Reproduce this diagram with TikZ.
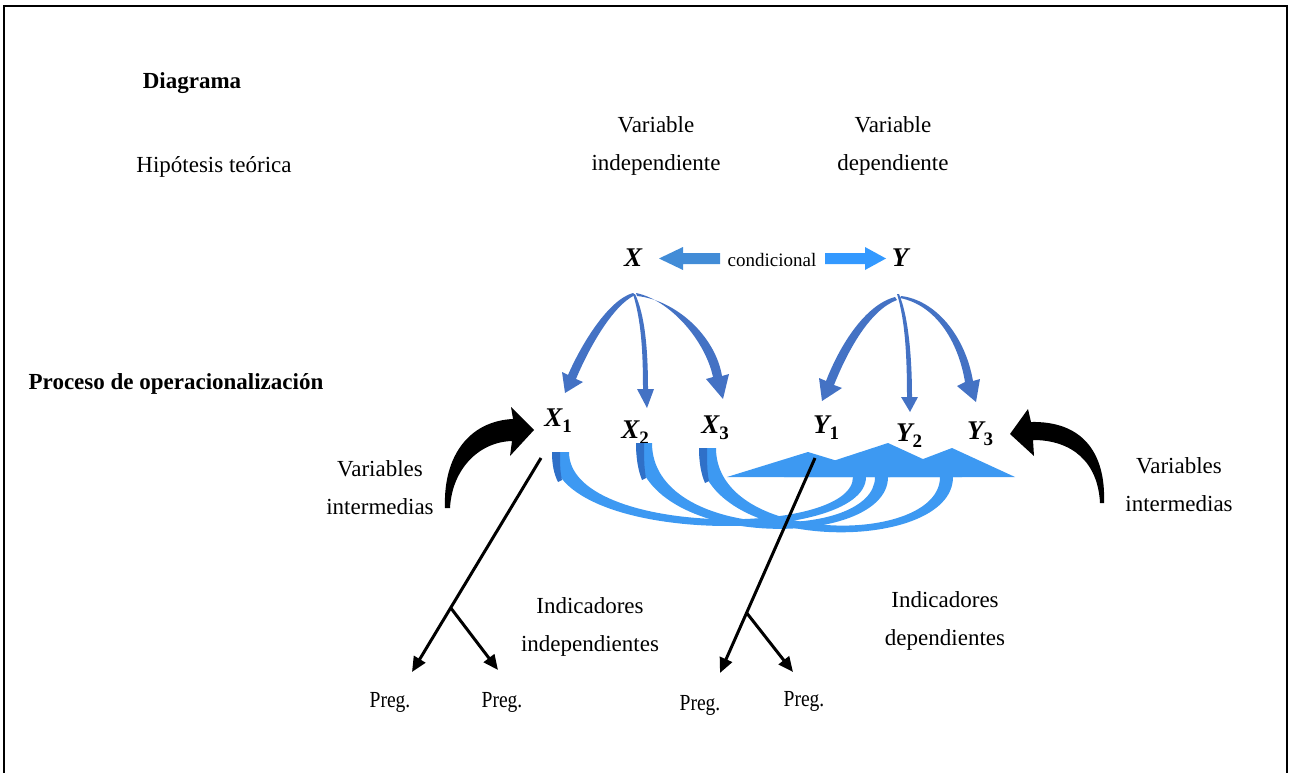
\documentclass[tikz,border=0pt]{standalone}
\usepackage{fontspec}
\setmainfont{Liberation Serif}
\usetikzlibrary{arrows.meta,calc}
\definecolor{topblue}{RGB}{68,114,196}
\definecolor{lowblue}{RGB}{61,153,242}
\definecolor{lowdark}{RGB}{47,112,200}
\definecolor{condl}{RGB}{66,140,215}
\definecolor{condr}{RGB}{51,153,255}
\newcommand\vsub[2]{#1\raisebox{-6pt}{\fontsize{19}{19}\selectfont\upshape\bfseries #2}}
\begin{document}
\begin{tikzpicture}[x=1pt,y=-1pt,
  txt/.style={font=\fontsize{23}{38}\selectfont, align=center, inner sep=0pt},
  btxt/.style={font=\fontsize{23}{28}\selectfont\bfseries, inner sep=0pt},
  var/.style={font=\fontsize{27}{30}\selectfont\bfseries\itshape, inner sep=0pt},
  preg/.style={font=\fontsize{23}{26}\selectfont, inner sep=0pt, anchor=base},
  blk/.style={line width=3pt, -{Triangle[length=15pt,width=13pt]}},
]
\useasboundingbox (0,0) rectangle (1291,773);
% frame
\draw[line width=2pt] (4,773) -- (4,6) -- (1287,6) -- (1287,773);

% texts
\node[btxt] (diag) at (192,83) {Diagrama};
\node[txt] (hip) at (214,167) {Hipótesis teórica};
\node[txt] (vi) at (656,146) {Variable\\independiente};
\node[txt] (vd) at (893,146) {Variable\\dependiente};
\node[btxt] (proc) at (176,384) {Proceso de operacionalización};
\node[var] (X) at (633,258) {X};
\node[var] (Y) at (900,258) {Y};
\node[font=\fontsize{19}{22}\selectfont, inner sep=0pt] (cond) at (772,260) {condicional};

\node[var] (X1) at (558,421) {\vsub{X}{1}};
\node[var] (X2) at (635,433) {\vsub{X}{2}};
\node[var] (X3) at (715,428) {\vsub{X}{3}};
\node[var] (Y1) at (826,428) {\vsub{Y}{1}};
\node[var] (Y2) at (909,436) {\vsub{Y}{2}};
\node[var] (Y3) at (980,434) {\vsub{Y}{3}};

\node[txt] (vil) at (380,488) {Variables\\intermedias};
\node[txt] (vir) at (1179,485) {Variables\\intermedias};
\node[txt] (ii) at (590,627) {Indicadores\\independientes};
\node[txt] (id) at (945,621) {Indicadores\\dependientes};

\node[preg] (p1) at (390,707) {\scalebox{0.85}[1]{Preg.}};
\node[preg] (p2) at (502,707) {\scalebox{0.85}[1]{Preg.}};
\node[preg] (p3) at (700,710) {\scalebox{0.85}[1]{Preg.}};
\node[preg] (p4) at (804,706) {\scalebox{0.85}[1]{Preg.}};

% condicional arrows
\fill[condl] (720,253) -- (683,253) -- (683,247) -- (659,258.5) -- (683,270) -- (683,264) -- (720,264) -- cycle;
\fill[condr] (825,253) -- (865,253) -- (865,247) -- (886,258.5) -- (865,270) -- (865,264) -- (825,264) -- cycle;

% arrows from X
\fill[topblue] (633,293) .. controls (608,300) and (581,345) .. (568,375) -- (562,372) -- (565,393) -- (583,382) -- (576,379) .. controls (588,350) and (612,306) .. (635,295) -- cycle;
\fill[topblue] (633,294) .. controls (641,320) and (643,350) .. (643,389) -- (637,389) -- (647,408) -- (654,389) -- (648,389) .. controls (648,350) and (645,315) .. (635,294) -- cycle;
\fill[topblue] (636,293) .. controls (670,300) and (705,340) .. (713,377) -- (706,379) -- (723,399) -- (729,374) -- (722,376) .. controls (715,335) and (675,300) .. (637,296) -- cycle;
% arrows from Y
\fill[topblue] (895,297) .. controls (865,305) and (840,345) .. (826,381) -- (819,378) -- (822,401) -- (842,388) -- (834,385) .. controls (848,350) and (870,310) .. (897,300) -- cycle;
\fill[topblue] (897,294) .. controls (905,320) and (907,355) .. (907,397) -- (901,397) -- (910,412) -- (918,397) -- (912,397) .. controls (912,355) and (908,315) .. (899,294) -- cycle;
\fill[topblue] (900,298) .. controls (935,305) and (958,340) .. (965,382) -- (957,386) -- (976,402) -- (980,379) -- (973,381) .. controls (965,335) and (935,300) .. (901,296) -- cycle;

% lower curved arrows X_i -> Y_i
\fill[lowblue] (552,452) .. controls (552,546) and (866,546) .. (866,477) -- (853,477) .. controls (853,537) and (569,537) .. (569,452) -- cycle;
\fill[lowblue] (636,443) .. controls (636,551) and (888,551) .. (888,477) -- (875,477) .. controls (875,542) and (652,542) .. (652,443) -- cycle;
\fill[lowblue] (699,448) .. controls (699,555) and (953,555) .. (953,477) -- (940,477) .. controls (940,546) and (716,546) .. (716,448) -- cycle;
% darker shading near the tails
\fill[lowdark] (552,452) .. controls (552,465) and (554,474) .. (558,482) -- (562,480) .. controls (560,472) and (560,462) .. (560,452) -- cycle;
\fill[lowdark] (636,443) .. controls (636,458) and (638,470) .. (642,480) -- (646,478) .. controls (644,468) and (644,456) .. (644,443) -- cycle;
\fill[lowdark] (699,448) .. controls (699,462) and (701,474) .. (705,483) -- (709,481) .. controls (707,472) and (707,460) .. (707,448) -- cycle;
\fill[lowblue] (727,477) -- (808,452) -- (890,477) -- cycle;
\fill[lowblue] (784,477) -- (888,443) -- (962,477) -- cycle;
\fill[lowblue] (876,477) -- (952,448) -- (1015,477) -- cycle;

% black curved arrows (variables intermedias)
\fill (445,508) .. controls (443,455) and (470,421) .. (513,419) -- (511,407) -- (534,430) -- (510,456) -- (512,441) .. controls (478,442) and (452,470) .. (450,508) -- cycle;
\fill (1104,503) .. controls (1106,450) and (1080,421) .. (1031,422) -- (1028,409) -- (1010,434) -- (1034,456) -- (1033,440) .. controls (1072,440) and (1098,462) .. (1100,503) -- cycle;

% indicator lines
\coordinate (s1) at (541,458);
\coordinate (t1) at (412,672);
\coordinate (t2) at (498,670);
\coordinate (s2) at (815,458);
\coordinate (t3) at (720,673);
\coordinate (t4) at (793,672);
\coordinate (b1) at ($(s1)!0.70!(t1)$);
\coordinate (b2) at ($(s2)!0.72!(t3)$);
\draw[blk] (s1) -- (t1);
\draw[blk] (b1) -- (t2);
\draw[blk] (s2) -- (t3);
\draw[blk] (b2) -- (t4);
\end{tikzpicture}
\end{document}
